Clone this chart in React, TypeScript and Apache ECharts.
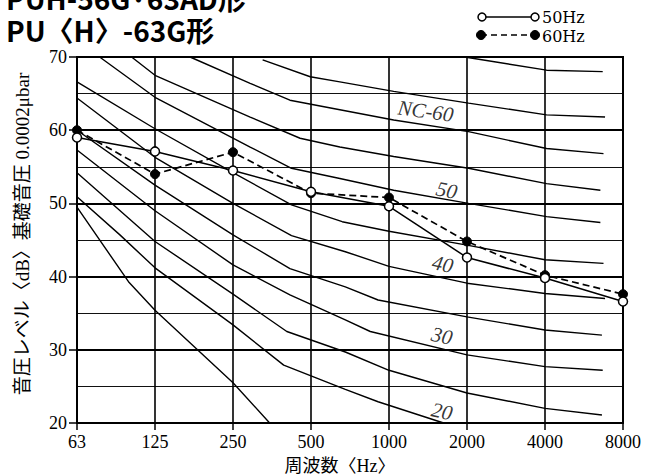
import React, { useEffect, useRef } from "react";
import * as echarts from "echarts";

// ---- data ----
const freqLabels = ["63", "125", "250", "500", "1000", "2000", "4000", "8000"];
const yMin = 20;
const yMax = 70;
const yStep = 10;

// NC curves as [octave index (0 = 63 Hz), dB]
const nc15 = [[0, 49.5], [0.66, 39.3], [1, 35.4], [2, 25.5], [2.47, 20]];
const nc20 = [[0, 50.9], [0.55, 45.7], [1, 41.2], [2, 33.4], [2.65, 27.9], [3.44, 24.6], [3.86, 22.9], [4.7, 20]];
const nc25 = [[0, 54.2], [1, 44.8], [2, 37.6], [2.69, 32.5], [3.44, 29.7], [4, 27.2], [5, 24.1], [6, 22], [6.73, 21.1]];
const nc30 = [[0, 57.3], [1, 49], [2, 41.6], [2.73, 37.5], [3.44, 34.1], [3.76, 32.5], [5, 29.3], [6, 27.7], [6.74, 27.2]];
const nc35 = [[0, 60], [1, 52.5], [2, 45.7], [2.73, 41.1], [3.44, 38.6], [3.86, 36.8], [5, 34.5], [6, 32.7], [6.73, 32.0]];
const nc40 = [[0, 64.4], [1, 56.3], [2, 50], [2.75, 45.6], [3.44, 43.4], [4, 41.4], [5, 39.1], [6, 37.7], [6.77, 37.0]];
const nc45 = [[0, 66.6], [1, 60.2], [2, 54.2], [2.75, 49.8], [3.4, 47.5], [4, 46.2], [5, 44.3], [6, 42.3], [6.75, 41.8]];
const nc50 = [[0.29, 70], [1, 64.5], [2.22, 57.7], [2.75, 54.8], [3.37, 53.4], [4.06, 51.8], [5.02, 50.0], [6.02, 48.2], [6.71, 47.4]];
const nc55 = [[0.7, 70], [1, 67.5], [2.22, 61.8], [2.86, 58.9], [3.37, 57.7], [4.06, 56.4], [5.02, 54.8], [6.02, 52.7], [6.71, 51.8]];
const nc60 = [[1.45, 70], [2.22, 66.4], [2.73, 64.1], [3.37, 62.8], [4.06, 61.4], [5.02, 59.8], [6.02, 57.5], [6.75, 56.8]];
const nc65 = [[2.38, 69.6], [2.99, 67.3], [3.37, 66.6], [4.06, 65.3], [5.02, 63.7], [6.02, 62.1], [6.77, 61.8]];
const nc70 = [[4.97, 70], [6.02, 68.2], [6.74, 68.0]];

const ncNames = ["NC-15", "NC-20", "NC-25", "NC-30", "NC-35", "NC-40", "NC-45", "NC-50", "NC-55", "NC-60", "NC-65", "NC-70"];
const ncCurves = [nc15, nc20, nc25, nc30, nc35, nc40, nc45, nc50, nc55, nc60, nc65, nc70];

// measured sound pressure levels (dB) per octave band
const hz50 = [59.0, 57.1, 54.5, 51.6, 49.6, 42.6, 39.8, 36.6];
const hz60 = [60.0, 54.0, 57.0, 51.4, 50.8, 44.8, 40.2, 37.6];

// curve labels, anchored in data coordinates
const ncLabelTexts = ["NC-60", "50", "40", "30", "20"];
const ncLabelAt = [[4.47, 62.6], [4.74, 51.8], [4.69, 41.7], [4.68, 31.9], [4.68, 21.6]];

const titleLines = ["PUH-56G·63AD形", "PU〈H〉-63G形"];
const yAxisTitle = "音圧レベル〈dB〉基礎音圧 0.0002μbar";
const xAxisTitle = "周波数〈Hz〉";
const legendNames = ["50Hz", "60Hz"];

const SERIF = '"Liberation Serif", "Noto Sans CJK JP", serif';
const TITLE_FONT = 'bold 28px "Noto Sans CJK JP", "Noto Sans", sans-serif';

export default function App() {
  const ref = useRef<HTMLDivElement>(null);

  useEffect(() => {
    if (!ref.current) return;
    const chart = echarts.init(ref.current, null, { renderer: "svg" });

    const ncSeries = ncCurves.map((d, i) => ({
      type: "line",
      name: ncNames[i],
      data: d,
      symbol: "none",
      silent: true,
      lineStyle: { color: "#000", width: 1.4 },
      z: 2,
    }));

    const option: any = {
      animation: false,
      backgroundColor: "#fff",
      grid: {
        left: 77,
        right: 26,
        top: 57,
        bottom: 53,
        show: true,
        borderColor: "#000",
        borderWidth: 2,
        backgroundColor: "transparent",
      },
      xAxis: {
        type: "value",
        min: 0,
        max: freqLabels.length - 1,
        interval: 1,
        axisLine: { show: true, lineStyle: { color: "#000", width: 2 } },
        axisTick: { show: true, length: 7, lineStyle: { color: "#000", width: 1.5 } },
        axisLabel: {
          margin: 10,
          color: "#000",
          fontFamily: SERIF,
          fontSize: 18,
          formatter: (v: number) => freqLabels[Math.round(v)] ?? "",
        },
        splitLine: { show: true, lineStyle: { color: "#000", width: 1.6 } },
      },
      yAxis: {
        type: "value",
        min: yMin,
        max: yMax,
        interval: yStep,
        axisLine: { show: true, lineStyle: { color: "#000", width: 2 } },
        axisTick: { show: true, length: 8, lineStyle: { color: "#000", width: 1.5 } },
        axisLabel: { margin: 10, color: "#000", fontFamily: SERIF, fontSize: 18 },
        splitLine: { show: true, lineStyle: { color: "#000", width: 1.8 } },
        minorTick: { show: false, splitNumber: 2 },
        minorSplitLine: { show: true, lineStyle: { color: "#111", width: 1 } },
      },
      series: [
        ...ncSeries,
        {
          type: "line",
          name: legendNames[1],
          data: hz60.map((v, i) => [i, v]),
          symbol: "circle",
          symbolSize: 9,
          lineStyle: { color: "#000", width: 1.7, type: [7, 4] },
          itemStyle: { color: "#000", borderColor: "#000", borderWidth: 1 },
          z: 3,
        },
        {
          type: "line",
          name: legendNames[0],
          data: hz50.map((v, i) => [i, v]),
          symbol: "circle",
          symbolSize: 9,
          lineStyle: { color: "#000", width: 1.5 },
          itemStyle: { color: "#fff", borderColor: "#000", borderWidth: 1.5 },
          z: 4,
        },
        {
          type: "scatter",
          name: "labels",
          silent: true,
          symbolSize: 1,
          itemStyle: { color: "rgba(0,0,0,0)" },
          data: ncLabelAt.map((p, i) => ({
            value: p,
            name: ncLabelTexts[i],
            label: { rotate: i === 0 ? -8 : -12 },
          })),
          label: {
            show: true,
            position: "inside",
            formatter: "{b}",
            color: "#000",
            fontFamily: SERIF,
            fontStyle: "italic",
            fontSize: 21,
          },
          z: 5,
        },
      ],
      graphic: [
        {
          type: "text",
          x: 6,
          y: -2,
          style: { text: titleLines[0], font: TITLE_FONT, fill: "#000", textVerticalAlign: "middle" },
        },
        {
          type: "text",
          x: 6,
          y: 30,
          style: { text: titleLines[1], font: TITLE_FONT, fill: "#000", textVerticalAlign: "middle" },
        },
        {
          type: "text",
          x: 22,
          y: 234,
          rotation: Math.PI / 2,
          style: {
            text: yAxisTitle,
            font: '19px "Liberation Serif", "Noto Sans CJK JP", serif',
            fill: "#000",
            textAlign: "center",
            textVerticalAlign: "middle",
          },
        },
        {
          type: "text",
          x: 340,
          y: 466,
          style: {
            text: xAxisTitle,
            font: '18px "Liberation Serif", "Noto Sans CJK JP", serif',
            fill: "#000",
            textAlign: "center",
            textVerticalAlign: "middle",
          },
        },
        // legend: 50Hz (open circles, solid)
        { type: "line", shape: { x1: 482, y1: 17, x2: 535, y2: 17 }, style: { stroke: "#000", lineWidth: 1.5 } },
        { type: "circle", shape: { cx: 482, cy: 17, r: 4 }, style: { fill: "#fff", stroke: "#000", lineWidth: 1.5 } },
        { type: "circle", shape: { cx: 535, cy: 17, r: 4 }, style: { fill: "#fff", stroke: "#000", lineWidth: 1.5 } },
        {
          type: "text",
          x: 542,
          y: 17,
          style: { text: legendNames[0], font: '16px "DejaVu Serif", serif', fill: "#000", textVerticalAlign: "middle" },
        },
        // legend: 60Hz (filled circles, dashed)
        { type: "line", shape: { x1: 481, y1: 35, x2: 535, y2: 35 }, style: { stroke: "#000", lineWidth: 1.7, lineDash: [6, 4] } },
        { type: "circle", shape: { cx: 481, cy: 35, r: 4.5 }, style: { fill: "#000", stroke: "#000", lineWidth: 1 } },
        { type: "circle", shape: { cx: 535, cy: 35, r: 4.5 }, style: { fill: "#000", stroke: "#000", lineWidth: 1 } },
        {
          type: "text",
          x: 542,
          y: 36,
          style: { text: legendNames[1], font: '16px "DejaVu Serif", serif', fill: "#000", textVerticalAlign: "middle" },
        },
      ],
    };

    chart.setOption(option);
    return () => chart.dispose();
  }, []);

  return (
    <div
      ref={ref}
      style={{ position: "fixed", left: 0, top: 0, width: 649, height: 476, background: "#fff" }}
    />
  );
}
